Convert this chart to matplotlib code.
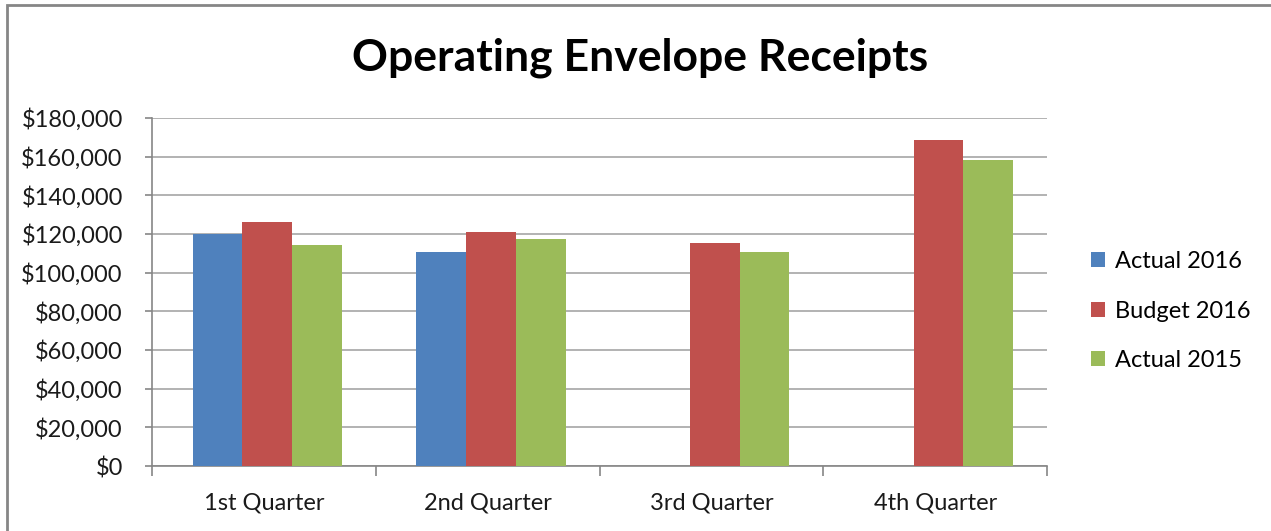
# Operating Envelope Receipts - grouped bar chart

import numpy as np
import matplotlib.pyplot as plt
from matplotlib.patches import Rectangle
from matplotlib.ticker import FuncFormatter

quarters = ['1st Quarter', '2nd Quarter', '3rd Quarter', '4th Quarter']
actual_2016 = [120000, 110500, 0, 0]
budget_2016 = [126400, 121100, 115400, 168400]
actual_2015 = [114500, 117300, 110700, 158400]

series = ['Actual 2016', 'Budget 2016', 'Actual 2015']
colors = ['#4F81BD', '#C0504D', '#9BBB59']

plt.rcParams['font.family'] = ['Lato', 'DejaVu Sans']

fig = plt.figure(figsize=(12.71, 5.31), dpi=100)
ax = fig.add_axes([152/1271, 65/531, 895/1271, 348/531])

# outer chart frame
fig.patches.append(Rectangle((7/1271, -0.1), 1.2, (531-5)/531 + 0.1, transform=fig.transFigure,
                             fill=False, edgecolor='#868686', linewidth=2))

x = np.arange(len(quarters))
w = 1/4.5
for i, (vals, c, lab) in enumerate(zip([actual_2016, budget_2016, actual_2015], colors, series)):
    ax.bar(x + (i-1)*w + 0.015, vals, width=w, color=c, label=lab, zorder=3)

ax.set_xlim(-0.5, 3.5)
ax.set_ylim(0, 180000)
ax.set_yticks(np.arange(0, 180001, 20000))
ax.yaxis.set_major_formatter(FuncFormatter(lambda v, p: '${:,.0f}'.format(v)))
ax.yaxis.grid(True, color='#A6A6A6', linewidth=1.2, zorder=0)
ax.set_xticks(x)
ax.set_xticklabels(quarters)
ax.set_xticks(np.arange(-0.5, 4.0, 1.0), minor=True)
ax.tick_params(axis='x', which='major', length=0, pad=19, labelsize=17, colors='#1a1a1a')
ax.tick_params(axis='x', which='minor', length=7, color='#868686', width=1.2)
ax.tick_params(axis='y', length=5, color='#868686', width=1.2, labelsize=17, pad=16, labelcolor='#1a1a1a')
for s in ['top', 'right']:
    ax.spines[s].set_visible(False)
for s in ['left', 'bottom']:
    ax.spines[s].set_color('#868686')
    ax.spines[s].set_linewidth(1.2)

fig.text(640/1271, 1 - 58/531, 'Operating Envelope Receipts', ha='center', va='center',
         fontsize=32, fontweight='bold', color='black')

leg = ax.legend(loc='center left', bbox_to_anchor=(1.025, 0.445), frameon=False, fontsize=17,
                handlelength=0.6, handleheight=0.6, handletextpad=0.45, labelspacing=1.2)

plt.savefig('out.png', dpi=100)
